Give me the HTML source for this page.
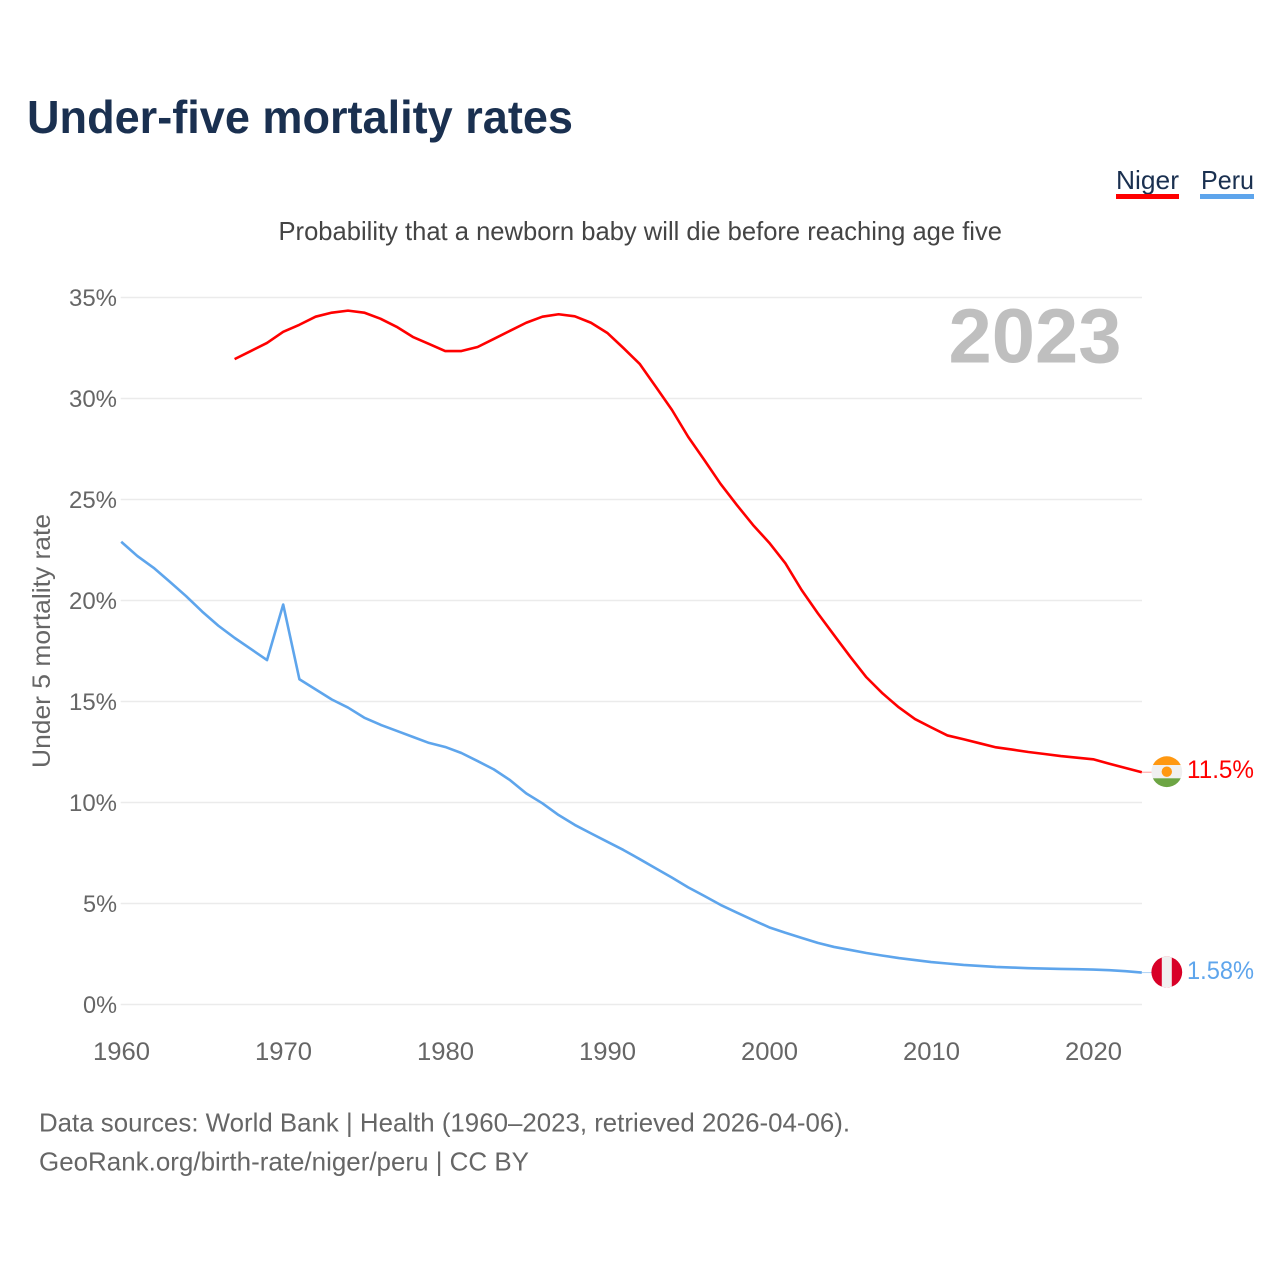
<!DOCTYPE html>
<html lang="en">
<head>
<meta charset="utf-8">
<title>Under-five mortality rates</title>
<style>
html,body{margin:0;padding:0;background:#fff;}
svg{display:block;font-family:"Liberation Sans",sans-serif;}
</style>
</head>
<body>
<svg id="chart" xmlns="http://www.w3.org/2000/svg" width="1280" height="1280" viewBox="0 0 1280 1280">
  <rect width="1280" height="1280" fill="#fff"/>
  <text x="27" y="133" font-size="46" font-weight="700" fill="#1a3050" textLength="546" lengthAdjust="spacingAndGlyphs">Under-five mortality rates</text>
  <text x="278.5" y="240" font-size="26" fill="#444" textLength="723.5" lengthAdjust="spacingAndGlyphs">Probability that a newborn baby will die before reaching age five</text>
  <g>
    <text x="1116" y="189" font-size="26" fill="#1a3050" textLength="63" lengthAdjust="spacingAndGlyphs">Niger</text>
    <rect x="1116" y="194" width="63" height="5" fill="#ff0000"/>
  </g>
  <g>
    <text x="1201" y="189" font-size="26" fill="#1a3050" textLength="53" lengthAdjust="spacingAndGlyphs">Peru</text>
    <rect x="1200" y="194" width="54" height="5" fill="#5ea5ec"/>
  </g>
  <text transform="translate(50,641) rotate(-90)" text-anchor="middle" font-size="25" fill="#666" textLength="254" lengthAdjust="spacingAndGlyphs">Under 5 mortality rate</text>
  <g id="grid"></g>
  <g id="yticks"></g>
  <g id="xticks"></g>
  <text x="948.5" y="362.5" font-size="77" font-weight="700" fill="#bfbfbf" textLength="173" lengthAdjust="spacingAndGlyphs">2023</text>
  <g id="series"></g>
  <g id="ends"></g>
  <text x="39" y="1131.5" font-size="26" fill="#666" textLength="811" lengthAdjust="spacingAndGlyphs">Data sources: World Bank | Health (1960–2023, retrieved 2026-04-06).</text>
  <text x="39" y="1170.5" font-size="26" fill="#666" textLength="490" lengthAdjust="spacingAndGlyphs">GeoRank.org/birth-rate/niger/peru | CC BY</text>
</svg>
<script>
const years = [1960,1961,1962,1963,1964,1965,1966,1967,1968,1969,1970,1971,1972,1973,1974,1975,1976,1977,1978,1979,1980,1981,1982,1983,1984,1985,1986,1987,1988,1989,1990,1991,1992,1993,1994,1995,1996,1997,1998,1999,2000,2001,2002,2003,2004,2005,2006,2007,2008,2009,2010,2011,2012,2013,2014,2015,2016,2017,2018,2019,2020,2021,2022,2023];
const nigerValues = [null,null,null,null,null,null,null,31.95,32.35,32.75,33.3,33.65,34.05,34.25,34.35,34.25,33.95,33.55,33.05,32.7,32.35,32.35,32.55,32.95,33.35,33.75,34.05,34.17,34.07,33.75,33.25,32.5,31.72,30.58,29.43,28.1,26.95,25.77,24.73,23.74,22.86,21.84,20.52,19.37,18.29,17.22,16.2,15.4,14.71,14.13,13.72,13.32,13.13,12.93,12.73,12.62,12.5,12.4,12.3,12.22,12.14,11.92,11.71,11.5];
const peruValues = [22.91,22.2,21.62,20.93,20.22,19.45,18.75,18.15,17.6,17.05,19.8,16.1,15.6,15.1,14.7,14.2,13.85,13.55,13.25,12.95,12.75,12.45,12.05,11.64,11.11,10.45,9.96,9.38,8.89,8.47,8.06,7.65,7.2,6.74,6.28,5.8,5.37,4.93,4.55,4.18,3.82,3.55,3.3,3.05,2.85,2.7,2.55,2.42,2.3,2.2,2.1,2.03,1.96,1.91,1.86,1.83,1.8,1.78,1.76,1.75,1.73,1.7,1.65,1.58];
const yTickValues = [0,5,10,15,20,25,30,35];
const xTickValues = [1960,1970,1980,1990,2000,2010,2020];
const nigerEndLabel = "11.5%";
const peruEndLabel = "1.58%";

const NS = "http://www.w3.org/2000/svg";
const xScale = function (year) { return 121.2 + (year - 1960) * 16.2; };
const yScale = function (value) { return 1004.5 - value * 20.2; };

function make(tag, parent, attrs) {
  const el = document.createElementNS(NS, tag);
  Object.keys(attrs).forEach(function (k) { el.setAttribute(k, attrs[k]); });
  parent.appendChild(el);
  return el;
}

const grid = document.getElementById("grid");
const yticks = document.getElementById("yticks");
yTickValues.forEach(function (v) {
  const line = make("line", grid, {x1: 120.7, x2: 1142, y1: yScale(v), y2: yScale(v), stroke: "#ebebeb", "stroke-width": 1.6});
  
  
  const label = v + "%";
  const t = make("text", yticks, {x: 117, y: yScale(v) + 8.5, "text-anchor": "end", "font-size": 24.5, fill: "#666", textLength: v < 10 ? 34 : 48, lengthAdjust: "spacingAndGlyphs"});
  t.textContent = label;
  
  
});

const xticks = document.getElementById("xticks");
xTickValues.forEach(function (year) {
  const t = make("text", xticks, {x: xScale(year) + 0.3, y: 1060, "text-anchor": "middle", "font-size": 25, fill: "#666", textLength: 57, lengthAdjust: "spacingAndGlyphs"});
  t.textContent = String(year);
  
  
});

function linePath(values) {
  let d = "";
  values.forEach(function (v, i) {
    if (v === null) return;
    d += (d ? "L" : "M") + xScale(years[i]).toFixed(2) + " " + yScale(v).toFixed(2);
  });
  return d;
}

const series = document.getElementById("series");
const nigerLine = make("path", series, {d: linePath(nigerValues), fill: "none", stroke: "#ff0000", "stroke-width": 2.6, "stroke-linejoin": "round"});


const peruLine = make("path", series, {d: linePath(peruValues), fill: "none", stroke: "#5ea5ec", "stroke-width": 2.6, "stroke-linejoin": "round"});



const ends = document.getElementById("ends");
const defs = make("defs", ends, {});
const clip = make("clipPath", defs, {id: "flag-clip"});
make("circle", clip, {cx: 0, cy: 0, r: 15.4});

const lastIndex = years.length - 1;
const nigerY = yScale(nigerValues[lastIndex]);
const peruY = yScale(peruValues[lastIndex]);
const endX = xScale(years[lastIndex]);

const nigerLead = make("line", ends, {x1: endX, x2: 1153, y1: nigerY, y2: nigerY, stroke: "#ff0000", "stroke-opacity": 0.4, "stroke-width": 1});


const peruLead = make("line", ends, {x1: endX, x2: 1153, y1: peruY, y2: peruY, stroke: "#5ea5ec", "stroke-opacity": 0.5, "stroke-width": 1});



const nigerFlag = make("g", ends, {transform: "translate(1166.8," + (nigerY - 0.5) + ")", "clip-path": "url(#flag-clip)"});


make("rect", nigerFlag, {x: -16, y: -16, width: 32, height: 32, fill: "#f0f0f0"});
make("rect", nigerFlag, {x: -16, y: -16, width: 32, height: 9.3, fill: "#ff9811"});
make("rect", nigerFlag, {x: -16, y: 6.6, width: 32, height: 10, fill: "#6da544"});
make("circle", nigerFlag, {cx: 0, cy: 0, r: 5.2, fill: "#ff9811"});

const peruFlag = make("g", ends, {transform: "translate(1166.8," + (peruY - 0.5) + ")", "clip-path": "url(#flag-clip)"});


make("rect", peruFlag, {x: -16, y: -16, width: 32, height: 32, fill: "#d80027"});
make("rect", peruFlag, {x: -5, y: -16, width: 10, height: 32, fill: "#f0f0f0"});

const nigerText = make("text", ends, {x: 1187, y: nigerY + 5.8, "font-size": 25, fill: "#ff0000", textLength: 67, lengthAdjust: "spacingAndGlyphs"});
nigerText.textContent = nigerEndLabel;


const peruText = make("text", ends, {x: 1187, y: peruY + 6.4, "font-size": 25, fill: "#5ea5ec", textLength: 67, lengthAdjust: "spacingAndGlyphs"});
peruText.textContent = peruEndLabel;


</script>
</body>
</html>
